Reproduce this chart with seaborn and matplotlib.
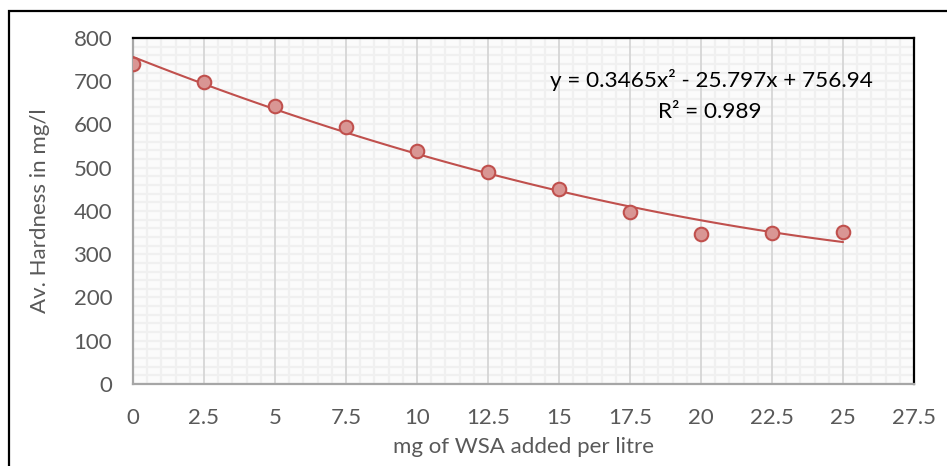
import matplotlib
matplotlib.use("Agg")

import matplotlib.pyplot as plt
import numpy as np
import pandas as pd
import seaborn as sns
from matplotlib.patches import Rectangle
from matplotlib.ticker import MultipleLocator

# WSA dose (mg/l) vs average hardness (mg/l)
wsa_dose = [0, 2.5, 5, 7.5, 10, 12.5, 15, 17.5, 20, 22.5, 25]
hardness = [740, 698, 643, 594, 539, 490, 451, 398, 347, 349, 351]
x_ticks = [0, 2.5, 5, 7.5, 10, 12.5, 15, 17.5, 20, 22.5, 25, 27.5]
y_ticks = [0, 100, 200, 300, 400, 500, 600, 700, 800]
equation_text = "y = 0.3465x² - 25.797x + 756.94"
r2_text = "R² = 0.989"

df = pd.DataFrame({"dose": wsa_dose, "hardness": hardness})

sns.set_theme(style="white")
plt.rcParams["font.family"] = ["Lato", "DejaVu Sans"]

fig = plt.figure(figsize=(9.47, 4.66), dpi=100)
ax = fig.add_axes([0.1404, 0.176, 0.8248, 0.7425])
ax.set_facecolor("#fbfbfb")

# fine pattern grid + major vertical lines
ax.xaxis.set_minor_locator(MultipleLocator(0.5))
ax.yaxis.set_minor_locator(MultipleLocator(20))
ax.grid(which="minor", color="#f0f0f0", lw=1.6, zorder=0)
ax.grid(which="major", axis="y", color="#f0f0f0", lw=1.6, zorder=0)
ax.set_axisbelow(True)
# major vertical grid lines drawn over the fine pattern
for xv in x_ticks[1:-1]:
    ax.axvline(xv, color="#d6d6d6", lw=1.3, zorder=1)

red = "#c0504d"
sns.regplot(data=df, x="dose", y="hardness", order=2, ci=None, scatter=False,
            line_kws={"color": red, "lw": 1.5, "zorder": 3}, ax=ax)
sns.scatterplot(data=df, x="dose", y="hardness", s=95, color="#d99694",
                edgecolor=red, linewidth=1.5, zorder=4, ax=ax, legend=False)

ax.set_xlim(0, 27.5)
ax.set_ylim(0, 800)
ax.set_xticks(x_ticks)
ax.set_xticklabels([f"{t:g}" for t in x_ticks])
ax.set_yticks(y_ticks)
ax.tick_params(axis="both", which="both", length=0, labelsize=16,
               labelcolor="#595959")
ax.tick_params(axis="x", pad=17)
ax.tick_params(axis="y", pad=15)

for side in ["top", "right"]:
    ax.spines[side].set_color("black")
    ax.spines[side].set_linewidth(1.6)
for side in ["left", "bottom"]:
    ax.spines[side].set_color("#a6a6a6")
    ax.spines[side].set_linewidth(1.6)

ax.set_xlabel("mg of WSA added per litre", fontsize=16, color="#595959",
              labelpad=6.5)
ax.set_ylabel("Av. Hardness in mg/l", fontsize=16, color="#595959",
              labelpad=17)

ax.text(0.740, 0.879, equation_text, transform=ax.transAxes, fontsize=16.2,
        color="black", ha="center", va="center")
ax.text(0.739, 0.787, r2_text, transform=ax.transAxes, fontsize=16.2,
        color="black", ha="center", va="center")

# outer chart border
fig.patches.append(Rectangle((9 / 947, -0.2), 1.2, 1.2 - 11 / 466,
                             transform=fig.transFigure, fill=False,
                             edgecolor="black", lw=1.6))

fig.savefig("out.png", dpi=100)
plt.close(fig)
